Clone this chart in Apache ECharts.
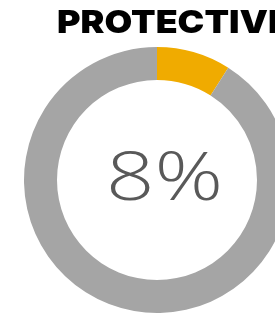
<!DOCTYPE html>
<html><head><meta charset="utf-8">
<script src="https://cdn.jsdelivr.net/npm/echarts@6/dist/echarts.min.js"></script>
<style>html,body{margin:0;padding:0;background:#fff}#c{width:275px;height:318px}</style>
</head><body><div id="c"></div>
<script>
const titleText = "PROTECTIVE";
const categories = ["Protective", "Other"];
const values = [9, 91];
const centerLabel = "8%";
const colors = ["#F0AB00", "#A5A5A5"];

const chart = echarts.init(document.getElementById('c'), null, {renderer: 'canvas'});
chart.setOption({
  animation: false,
  graphic: [{
    type: 'text', x: 57, y: 7, scaleX: 1.12,
    style: {text: titleText, font: '900 32px Inter', fill: '#000', textVerticalAlign: 'top'}
  }, {
    type: 'text', x: 106, y: 147, scaleX: 1.27,
    style: {text: centerLabel, font: '300 67px "Open Sans"', fill: '#595959', textVerticalAlign: 'top'}
  }],
  series: [{
    type: 'pie', center: [157, 180], radius: [100, 133],
    startAngle: 90, clockwise: true, silent: true,
    label: {show: false}, labelLine: {show: false},
    data: categories.map((c, i) => ({name: c, value: values[i], itemStyle: {color: colors[i]}}))
  }]
});
</script></body></html>
